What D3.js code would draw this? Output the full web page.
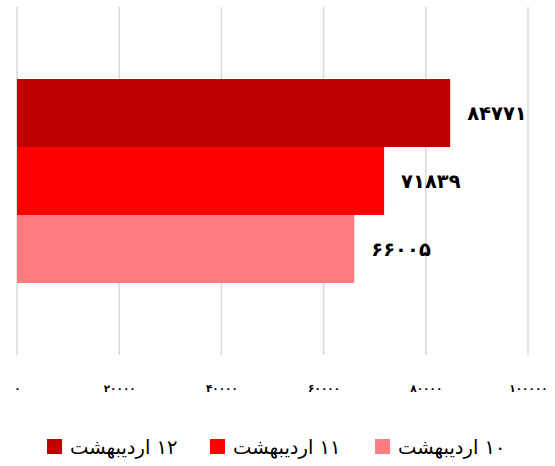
<!DOCTYPE html>
<html><head><meta charset="utf-8">
<script src="https://cdn.jsdelivr.net/npm/d3@7"></script>
<style>body{margin:0;background:#fff}svg{display:block}</style>
</head><body>
<script>
const categories = [""];
const seriesNames = ["۱۲ اردیبهشت", "۱۱ اردیبهشت", "۱۰ اردیبهشت"];
const seriesValues = [84771, 71839, 66005];
const seriesColors = ["#C00000", "#FF0000", "#FF7C80"];
const tickValues = [0, 20000, 40000, 60000, 80000, 100000];

const fa = n => String(n).replace(/\d/g, c => "۰۱۲۳۴۵۶۷۸۹"[c]);
const W = 555, H = 466;
const m = {left: 17, right: 27, top: 7, bottom: 111};
const svg = d3.select("body").append("svg").attr("width", W).attr("height", H);
const FONT = "DejaVu Sans";

const x = d3.scaleLinear().domain([0, 100000]).range([m.left, W - m.right]);
const y0 = d3.scaleBand().domain(categories).range([m.top, H - m.bottom]).padding(0.261);
const y1 = d3.scaleBand().domain(seriesNames).range([0, y0.bandwidth()]).padding(0);

// gridlines
svg.append("g").selectAll("line").data(tickValues).join("line")
  .attr("x1", d => x(d)).attr("x2", d => x(d))
  .attr("y1", m.top).attr("y2", H - m.bottom)
  .attr("stroke", "#d9d9d9").attr("stroke-width", 1.5);

// axis labels
const ax = svg.append("g").attr("transform", `translate(0,${H - m.bottom + 27})`)
  .call(d3.axisBottom(x).tickValues(tickValues).tickFormat(fa).tickSize(0));
ax.select(".domain").remove();
ax.selectAll("text").attr("font-family", FONT).attr("font-size", 10.5).attr("font-weight", "bold").attr("fill", "#000");

// bars
const data = seriesNames.map((s, i) => ({s, v: seriesValues[i], c: seriesColors[i], cat: categories[0]}));
svg.append("g").selectAll("rect").data(data).join("rect")
  .attr("x", x(0)).attr("y", d => y0(d.cat) + y1(d.s))
  .attr("width", d => x(d.v) - x(0)).attr("height", y1.bandwidth())
  .attr("fill", d => d.c);

// value labels
svg.append("g").selectAll("text").data(data).join("text")
  .attr("x", d => x(d.v) + 17).attr("y", d => y0(d.cat) + y1(d.s) + y1.bandwidth() / 2)
  .attr("dy", "0.35em").attr("font-family", FONT).attr("font-size", 19.5).attr("font-weight", "bold")
  .attr("fill", "#000").text(d => fa(d.v));

// legend
const legX = [47, 210, 375];
const lg = svg.append("g").selectAll("g").data(data).join("g")
  .attr("transform", (d, i) => `translate(${legX[i]},439)`);
lg.append("rect").attr("width", 15).attr("height", 15).attr("fill", d => d.c);
lg.append("text").attr("x", 23).attr("y", 15)
  .attr("font-family", FONT).attr("font-size", 19.5).attr("fill", "#000")
  .attr("direction", "rtl").attr("text-anchor", "end")
  .text(d => d.s);
</script>
</body></html>
